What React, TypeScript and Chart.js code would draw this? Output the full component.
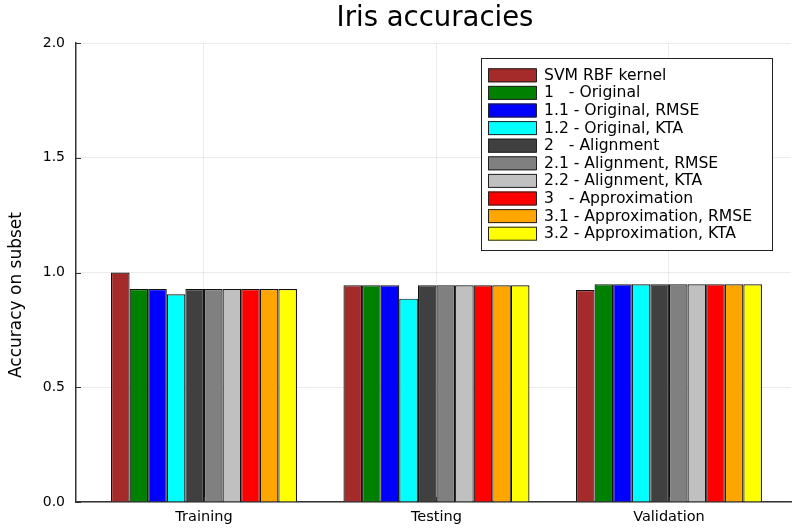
import React, { useEffect, useRef } from "react";
import { Chart, registerables } from "chart.js";
Chart.register(...registerables);

const categories = ["Training", "Testing", "Validation"];
const seriesNames = [
  "SVM RBF kernel",
  "1   - Original",
  "1.1 - Original, RMSE",
  "1.2 - Original, KTA",
  "2   - Alignment",
  "2.1 - Alignment, RMSE",
  "2.2 - Alignment, KTA",
  "3   - Approximation",
  "3.1 - Approximation, RMSE",
  "3.2 - Approximation, KTA",
];
const seriesColors = [
  "#a52a2a", "#008000", "#0000ff", "#00ffff", "#404040",
  "#808080", "#c0c0c0", "#ff0000", "#ffa500", "#ffff00",
];
const svmValues = [1.0, 0.944, 0.924];
const origValues = [0.928, 0.944, 0.949];
const origRmseValues = [0.928, 0.944, 0.949];
const origKtaValues = [0.905, 0.886, 0.949];
const alignValues = [0.928, 0.944, 0.949];
const alignRmseValues = [0.928, 0.944, 0.949];
const alignKtaValues = [0.928, 0.944, 0.949];
const approxValues = [0.928, 0.944, 0.949];
const approxRmseValues = [0.928, 0.944, 0.949];
const approxKtaValues = [0.928, 0.944, 0.949];
const allValues = [
  svmValues, origValues, origRmseValues, origKtaValues, alignValues,
  alignRmseValues, alignKtaValues, approxValues, approxRmseValues, approxKtaValues,
];
const yTicks = [0, 0.5, 1.0, 1.5, 2.0];
const FONT = "'DejaVu Sans', sans-serif";

const overlay = {
  id: "overlay",
  afterDraw(chart: any) {
    const ctx = chart.ctx;
    const area = chart.chartArea;
    const ys = chart.scales.y;
    const xs = chart.scales.x;
    ctx.save();
    // title
    ctx.fillStyle = "#000";
    ctx.font = `27.5px ${FONT}`;
    ctx.textAlign = "center";
    ctx.textBaseline = "alphabetic";
    ctx.fillText("Iris accuracies", 435, 26);
    // y axis title
    ctx.save();
    ctx.translate(17, 295);
    ctx.rotate(-Math.PI / 2);
    ctx.font = `17px ${FONT}`;
    ctx.textBaseline = "middle";
    ctx.fillText("Accuracy on subset", 0, 0);
    ctx.restore();
    // inner ticks
    ctx.strokeStyle = "#333";
    ctx.lineWidth = 1;
    for (const t of yTicks) {
      const py = Math.round(ys.getPixelForValue(t)) + 0.5;
      ctx.beginPath();
      ctx.moveTo(area.left, py);
      ctx.lineTo(area.left + 5, py);
      ctx.stroke();
    }
    for (let i = 0; i < categories.length; i++) {
      const px = Math.round(xs.getPixelForValue(i + 1)) + 0.5;
      ctx.beginPath();
      ctx.moveTo(px, area.bottom);
      ctx.lineTo(px, area.bottom - 5);
      ctx.stroke();
    }
    // legend
    const L = 481, T = 58, R = 772, B = 250;
    ctx.fillStyle = "#fff";
    ctx.fillRect(L, T, R - L, B - T);
    ctx.strokeStyle = "#222";
    ctx.strokeRect(L + 0.5, T + 0.5, R - L, B - T);
    ctx.font = `15.6px ${FONT}`;
    ctx.textAlign = "left";
    ctx.textBaseline = "middle";
    for (let i = 0; i < seriesNames.length; i++) {
      const cy = 75.3 + i * 17.6;
      ctx.fillStyle = seriesColors[i];
      ctx.fillRect(488, cy - 7, 48, 14);
      ctx.strokeStyle = "#222";
      ctx.strokeRect(488.5, cy - 6.5, 48, 13);
      ctx.fillStyle = "#000";
      ctx.fillText(seriesNames[i], 544, cy + 0.5);
    }
    ctx.restore();
  },
};

export default function App() {
  const ref = useRef<HTMLCanvasElement | null>(null);
  useEffect(() => {
    document.body.style.margin = "0";
    const datasets = seriesNames.map((name, i) => ({
      label: name,
      data: allValues[i].map((v, j) => ({ x: j + 1, y: v })),
      backgroundColor: seriesColors[i],
      borderColor: "#111",
      borderWidth: 1.2,
      categoryPercentage: 0.8,
      barPercentage: 1.0,
    }));
    const chart = new Chart(ref.current!, {
      type: "bar",
      data: { datasets },
      options: {
        animation: false,
        responsive: false,
        layout: { padding: { top: 43, right: 1, left: 0, bottom: 0 } },
        plugins: { legend: { display: false }, title: { display: false }, tooltip: { enabled: false } },
        scales: {
          x: {
            type: "linear",
            offset: false,
            min: 0.4495,
            max: 3.525,
            afterBuildTicks: (s: any) => {
              s.ticks = categories.map((_, i) => ({ value: i + 1 }));
            },
            afterFit: (s: any) => { s.height = 30; },
            ticks: {
              callback: (v: any) => categories[Math.round(v) - 1] ?? "",
              color: "#000",
              font: { family: FONT, size: 14.5 },
              padding: 7,
              maxRotation: 0,
              autoSkip: false,
            },
            grid: { color: "rgba(0,0,0,0.08)", drawTicks: false, offset: false },
            border: { color: "#333", width: 1.5 },
          },
          y: {
            min: 0,
            max: 2,
            afterBuildTicks: (s: any) => {
              s.ticks = yTicks.map((v) => ({ value: v }));
            },
            afterFit: (s: any) => { s.width = 76; },
            ticks: {
              callback: (v: any) => Number(v).toFixed(1),
              color: "#000",
              font: { family: FONT, size: 14 },
              padding: 11,
            },
            grid: { color: "rgba(0,0,0,0.08)", drawTicks: false },
            border: { color: "#333", width: 1.5 },
            title: { display: false },
          },
        },
      },
      plugins: [overlay],
    } as any);
    return () => chart.destroy();
  }, []);
  return <canvas ref={ref} width={792} height={532} style={{ display: "block" }} />;
}
